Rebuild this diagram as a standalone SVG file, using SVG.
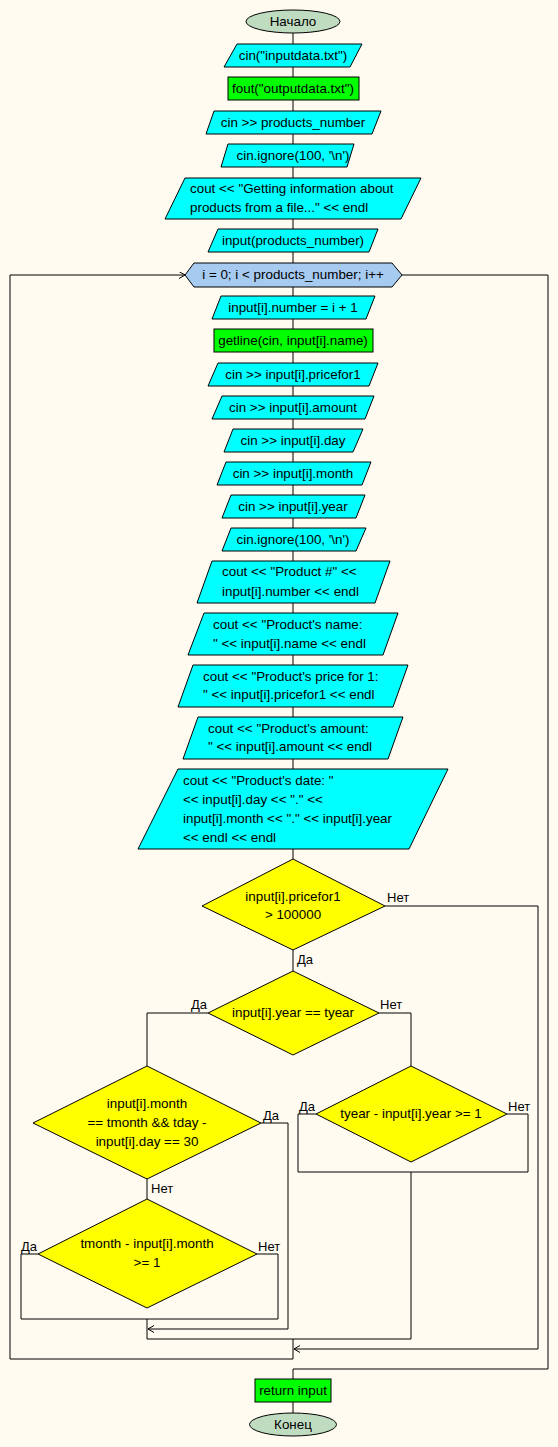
<svg xmlns="http://www.w3.org/2000/svg" width="558" height="1447" viewBox="0 0 558 1447">
<defs>
<marker id="arr" markerUnits="userSpaceOnUse" markerWidth="8" markerHeight="8" refX="6" refY="3.5" orient="auto"><path d="M0,0 L6,3.5 L0,7" fill="none" stroke="#000" stroke-width="1"/></marker>
</defs>
<style>
.io{fill:#00FFFF;stroke:#000;stroke-width:1}
.pr{fill:#00FF00;stroke:#000;stroke-width:1}
.dc{fill:#FFFF00;stroke:#000;stroke-width:1}
.tm{fill:#C0DCC0;stroke:#000;stroke-width:1}
.lp{fill:#A6CAF0;stroke:#000;stroke-width:1}
.ln{fill:none;stroke:#000;stroke-width:1}
text{font-family:"Liberation Sans",Arial,sans-serif;font-size:13.4px;fill:#000}
.c{text-anchor:middle}
.lb{font-size:13px}
</style>
<rect width="558" height="1447" fill="#FFFBF0"/>
<g id="connectors">
<path class="ln" d="M293 33 V859"/>
<path class="ln" d="M293 950 V971"/>
<path class="ln" d="M208 1013 H147 V1066"/>
<path class="ln" d="M147 1179 V1199"/>
<path class="ln" d="M38 1254 H21 V1319 H278 V1254 H257"/>
<path class="ln" d="M147 1319 V1339 H411"/>
<path class="ln" d="M261 1123 H288 V1329 H148" marker-end="url(#arr)"/>
<path class="ln" d="M379 1013 H411 V1066"/>
<path class="ln" d="M316 1114 H298 V1172 H528 V1114 H507"/>
<path class="ln" d="M411 1172 V1339"/>
<path class="ln" d="M293 1339 V1359 H10 V275 H185" marker-end="url(#arr)"/>
<path class="ln" d="M385 906 H538 V1349 H294" marker-end="url(#arr)"/>
<path class="ln" d="M402 275 H548 V1369 H293 V1379"/>
<path class="ln" d="M293 1402 V1413"/>
<text class="lb" x="387" y="902">Нет</text>
<text class="lb" x="297" y="964">Да</text>
<text class="lb" x="191" y="1009">Да</text>
<text class="lb" x="380" y="1009">Нет</text>
<text class="lb" x="263" y="1120">Да</text>
<text class="lb" x="151" y="1193">Нет</text>
<text class="lb" x="21" y="1251">Да</text>
<text class="lb" x="258" y="1251">Нет</text>
<text class="lb" x="299" y="1111">Да</text>
<text class="lb" x="508" y="1111">Нет</text>
</g>
<g id="start"><ellipse class="tm" cx="293" cy="21.5" rx="47" ry="11.5"/><text class="c" x="293" y="26">Начало</text></g>
<g id="n1"><polygon class="io" points="237,44 362,44 350,67 224,67"/><text class="c" x="293" y="60">cin("inputdata.txt")</text></g>
<g id="n2"><rect class="pr" x="228" y="77" width="131" height="23"/><text class="c" x="293" y="93">fout("outputdata.txt")</text></g>
<g id="n3"><polygon class="io" points="214,111 381,111 372,134 206,134"/><text class="c" x="293" y="127">cin &gt;&gt; products_number</text></g>
<g id="n4"><polygon class="io" points="228,144 354,144 347,167 221,167"/><text class="c" x="293" y="160">cin.ignore(100, '\n')</text></g>
<g id="n5"><polygon class="io" points="185,178 421,178 401,219 165,219"/><text x="190" y="193">cout &lt;&lt; "Getting information about</text><text x="190" y="212">products from a file..." &lt;&lt; endl</text></g>
<g id="n6"><polygon class="io" points="218,229 378,229 369,252 208,252"/><text class="c" x="293" y="245">input(products_number)</text></g>
<g id="loop"><polygon class="lp" points="185,275 194,263 392,263 402,275 392,287 194,287"/><text class="c" x="293" y="279">i = 0; i &lt; products_number; i++</text></g>
<g id="n7"><polygon class="io" points="221,296 375,296 366,319 212,319"/><text class="c" x="293" y="312">input[i].number = i + 1</text></g>
<g id="n8"><rect class="pr" x="214" y="329" width="159" height="23"/><text class="c" x="293" y="345">getline(cin, input[i].name)</text></g>
<g id="n9"><polygon class="io" points="218,363 378,363 369,386 208,386"/><text class="c" x="293" y="379">cin &gt;&gt; input[i].pricefor1</text></g>
<g id="n10"><polygon class="io" points="222,396 374,396 365,419 212,419"/><text class="c" x="293" y="412">cin &gt;&gt; input[i].amount</text></g>
<g id="n11"><polygon class="io" points="233,429 363,429 353,452 224,452"/><text class="c" x="293" y="445">cin &gt;&gt; input[i].day</text></g>
<g id="n12"><polygon class="io" points="226,462 371,462 362,485 217,485"/><text class="c" x="293" y="478">cin &gt;&gt; input[i].month</text></g>
<g id="n13"><polygon class="io" points="231,495 365,495 356,518 222,518"/><text class="c" x="293" y="511">cin &gt;&gt; input[i].year</text></g>
<g id="n14"><polygon class="io" points="231,528 366,528 356,551 222,551"/><text class="c" x="293" y="544">cin.ignore(100, '\n')</text></g>
<g id="n15"><polygon class="io" points="212,561 390,561 375,603 197,603"/><text x="222" y="576">cout &lt;&lt; "Product #" &lt;&lt;</text><text x="222" y="596">input[i].number &lt;&lt; endl</text></g>
<g id="n16"><polygon class="io" points="204,613 398,613 383,655 188,655"/><text x="213" y="629">cout &lt;&lt; "Product's name:</text><text x="213" y="648">" &lt;&lt; input[i].name &lt;&lt; endl</text></g>
<g id="n17"><polygon class="io" points="193,665 408,665 393,707 178,707"/><text x="203" y="681">cout &lt;&lt; "Product's price for 1:</text><text x="203" y="699">" &lt;&lt; input[i].pricefor1 &lt;&lt; endl</text></g>
<g id="n18"><polygon class="io" points="198,717 403,717 388,759 183,759"/><text x="208" y="733">cout &lt;&lt; "Product's amount:</text><text x="208" y="751">" &lt;&lt; input[i].amount &lt;&lt; endl</text></g>
<g id="n19"><polygon class="io" points="178,769 448,769 409,849 138,849"/><text x="183" y="785">cout &lt;&lt; "Product's date: "</text><text x="183" y="804">&lt;&lt; input[i].day &lt;&lt; "." &lt;&lt;</text><text x="183" y="823">input[i].month &lt;&lt; "." &lt;&lt; input[i].year</text><text x="183" y="842">&lt;&lt; endl &lt;&lt; endl</text></g>
<g id="d1"><polygon class="dc" points="293,859 385,906 293,950 202,906"/><text class="c" x="293" y="901">input[i].pricefor1</text><text class="c" x="293" y="919">&gt; 100000</text></g>
<g id="d2"><polygon class="dc" points="293,971 379,1013 293,1055 208,1013"/><text class="c" x="293" y="1017">input[i].year == tyear</text></g>
<g id="d3"><polygon class="dc" points="147,1066 261,1123 147,1179 33,1123"/><text class="c" x="147" y="1108">input[i].month</text><text class="c" x="147" y="1127">== tmonth &amp;&amp; tday -</text><text class="c" x="147" y="1146">input[i].day == 30</text></g>
<g id="d4"><polygon class="dc" points="147,1199 257,1254 147,1308 38,1254"/><text class="c" x="147" y="1248">tmonth - input[i].month</text><text class="c" x="147" y="1267">&gt;= 1</text></g>
<g id="d5"><polygon class="dc" points="411,1066 507,1114 411,1162 316,1114"/><text class="c" x="411" y="1118">tyear - input[i].year &gt;= 1</text></g>
<g id="ret"><rect class="pr" x="255" y="1379" width="76" height="23"/><text class="c" x="293" y="1395">return input</text></g>
<g id="end"><ellipse class="tm" cx="293" cy="1424.5" rx="43.5" ry="11.5"/><text class="c" x="293" y="1429">Конец</text></g>
</svg>
